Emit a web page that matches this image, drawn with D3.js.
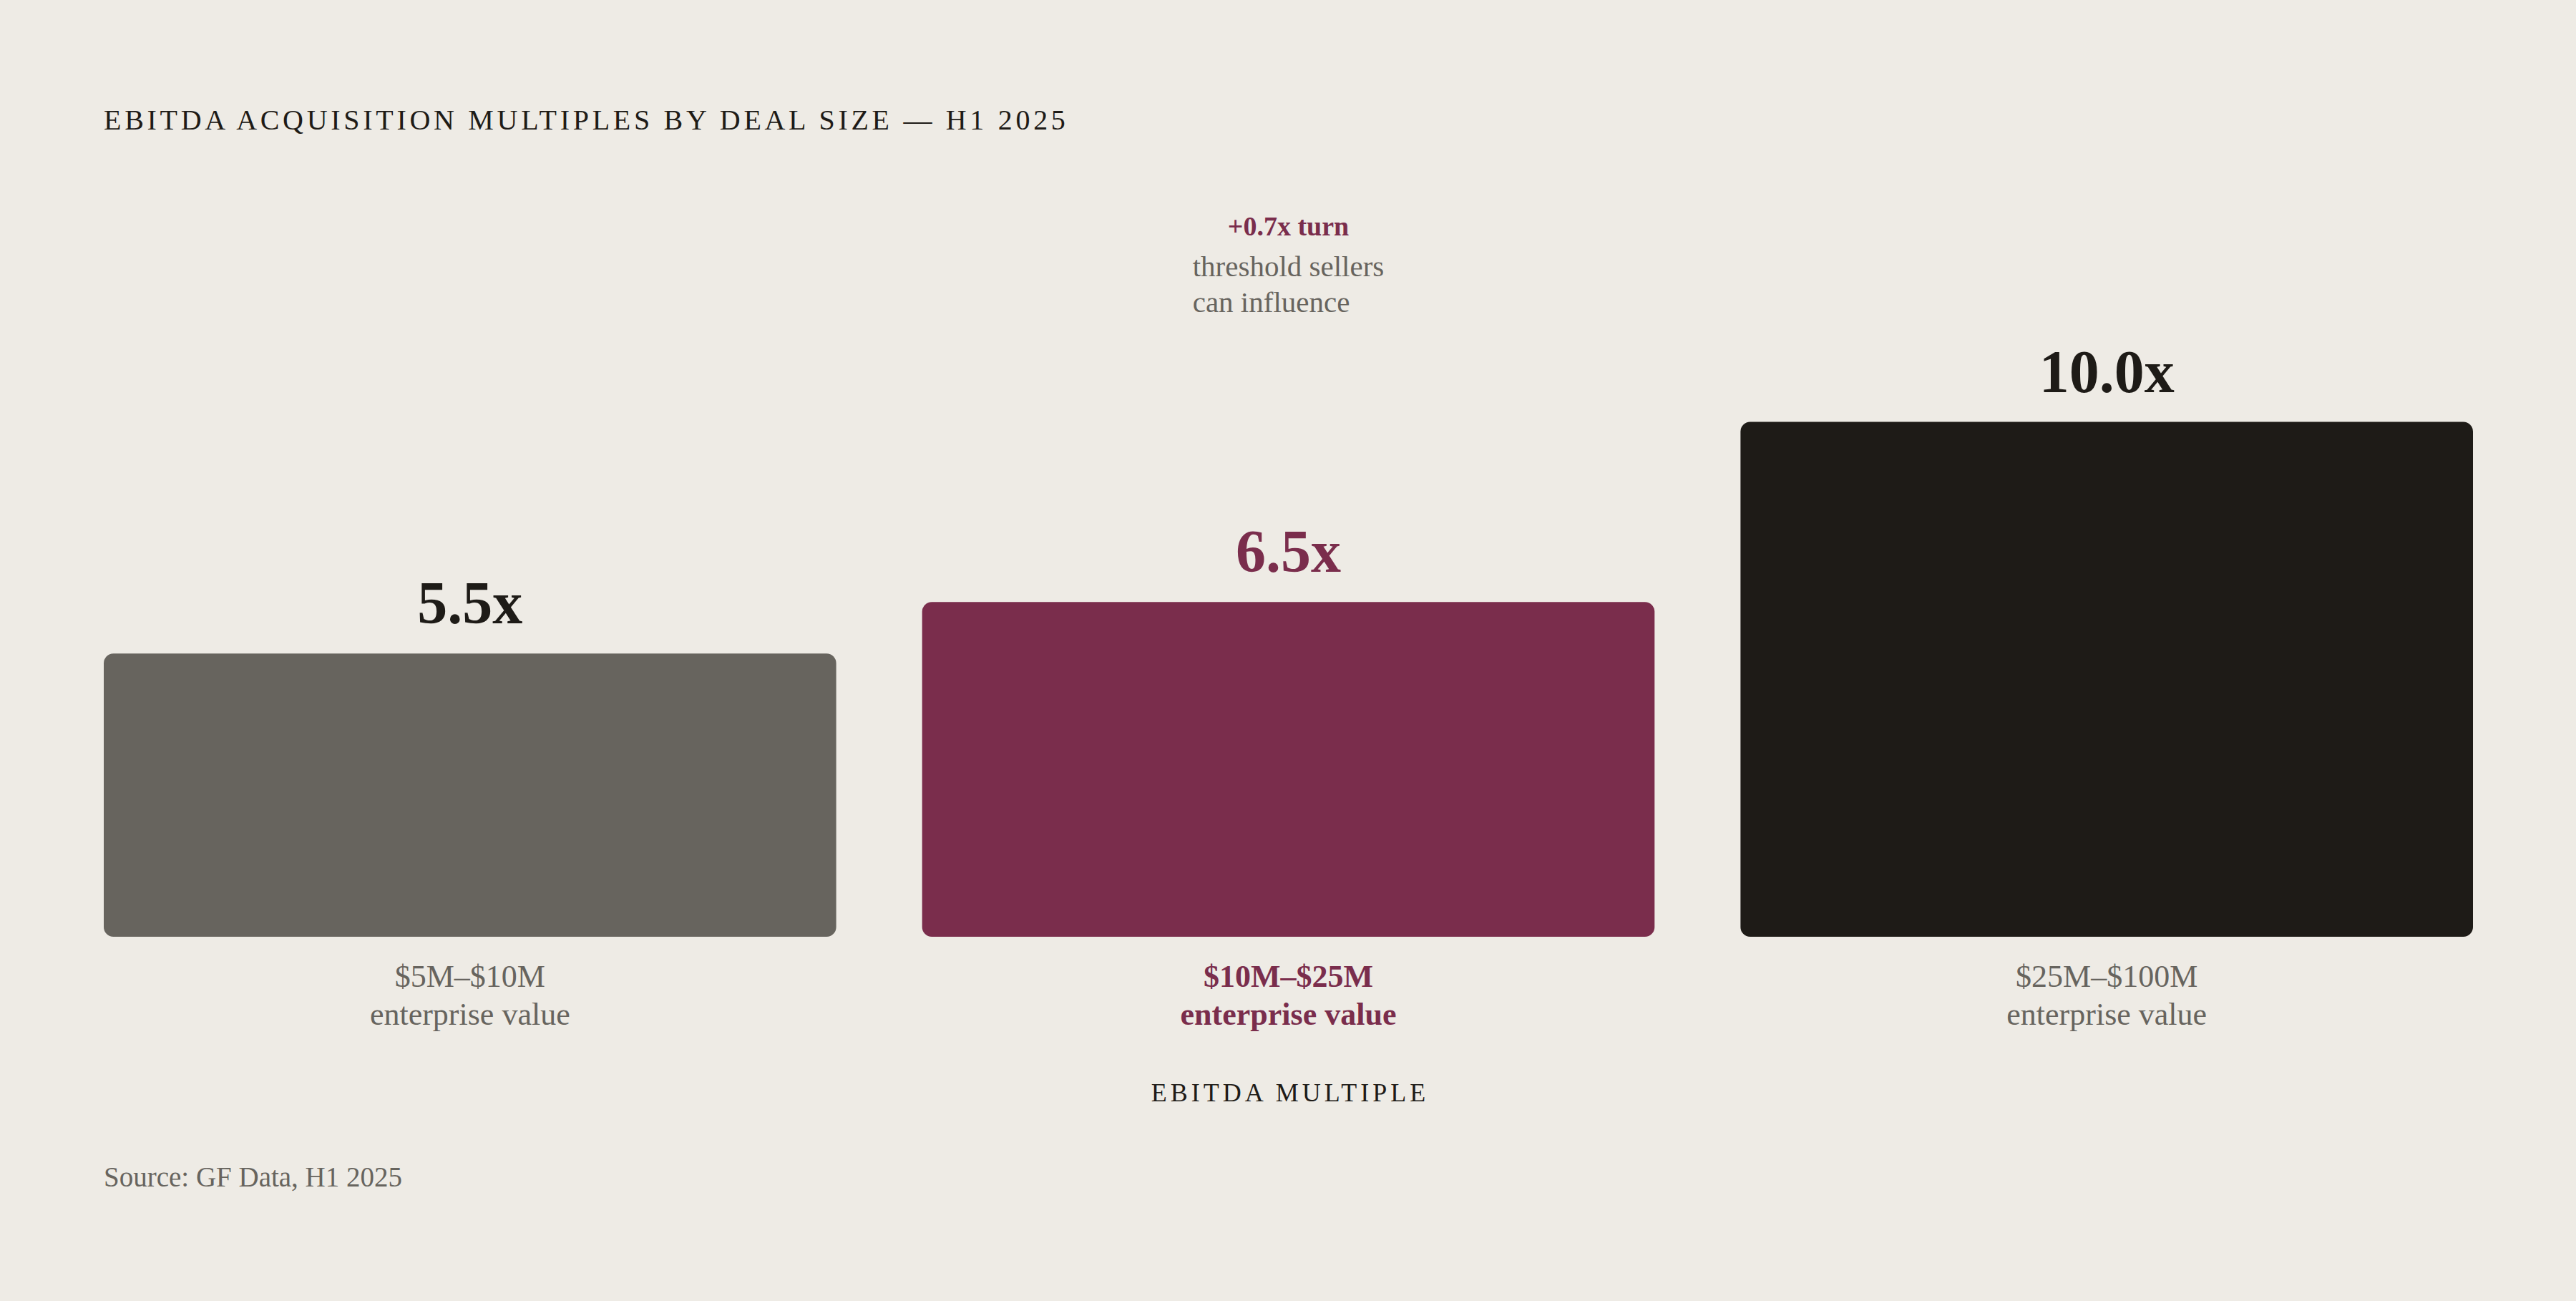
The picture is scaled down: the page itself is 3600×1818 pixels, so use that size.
<!DOCTYPE html>
<html>
<head>
<meta charset="utf-8">
<script src="https://cdn.jsdelivr.net/npm/d3@7"></script>
<style>
  html, body { margin: 0; padding: 0; background: #eeebe5; }
  svg { display: block; font-family: "Liberation Serif", "DejaVu Serif", serif; }
</style>
</head>
<body>
<svg width="3600" height="1818"></svg>
<script>
// deal size buckets and their median EBITDA multiples (H1 2025)
const categories = ["$5M–$10M", "$10M–$25M", "$25M–$100M"];
const multiples = [5.5, 6.5, 10.0];
const subLabels = ["enterprise value", "enterprise value", "enterprise value"];
const highlighted = "$10M–$25M";

const noteHead = "+0.7x turn";
const noteLines = ["threshold sellers", "can influence"];

const title = "EBITDA ACQUISITION MULTIPLES BY DEAL SIZE — H1 2025";
const axisTitle = "EBITDA MULTIPLE";
const source = "Source: GF Data, H1 2025";

const ink = "#1e1b17",
  grey = "#67645e",
  plum = "#7a2d4c";

var svg = d3.select("svg");

var x = d3.scaleBand().domain(categories).range([145, 3456]).paddingInner(0.105);
var y = d3.scaleLinear().domain([0, 10]).range([1309, 589.5]);

var barColor = d3.scaleOrdinal().domain(categories).range([grey, plum, ink]);
var labelColor = d3.scaleOrdinal().domain(categories).range([ink, plum, ink]);

var data = categories.map((c, i) => ({ cat: c, value: multiples[i], sub: subLabels[i] }));

svg
  .append("text")
  .attr("x", 145)
  .attr("y", 181)
  .attr("fill", ink)
  .attr("font-size", 40)
  .attr("letter-spacing", 4.7)
  .text(title);

var bars = svg.append("g").attr("class", "bars");

bars
  .selectAll("rect")
  .data(data)
  .enter()
  .append("rect")
  .attr("x", (d) => x(d.cat))
  .attr("y", (d) => y(d.value))
  .attr("width", x.bandwidth())
  .attr("height", (d) => y(0) - y(d.value))
  .attr("rx", 13.5)
  .attr("fill", (d) => barColor(d.cat));

// value on top of each bar
bars
  .selectAll("text.value")
  .data(data)
  .enter()
  .append("text")
  .attr("class", "value")
  .attr("x", (d) => x(d.cat) + x.bandwidth() / 2)
  .attr("y", (d) => y(d.value) - 42)
  .attr("text-anchor", "middle")
  .attr("font-size", 84)
  .attr("font-weight", "bold")
  .attr("fill", (d) => labelColor(d.cat))
  .text((d) => d.value.toFixed(1) + "x");

// category labels under the bars
var cats = svg
  .append("g")
  .selectAll("text")
  .data(data)
  .enter()
  .append("text")
  .attr("text-anchor", "middle")
  .attr("font-size", 44)
  .attr("font-weight", (d) => (d.cat === highlighted ? "bold" : "normal"))
  .attr("fill", (d) => (d.cat === highlighted ? plum : grey));

cats
  .append("tspan")
  .attr("x", (d) => x(d.cat) + x.bandwidth() / 2)
  .attr("y", 1379)
  .text((d) => d.cat);

cats
  .append("tspan")
  .attr("x", (d) => x(d.cat) + x.bandwidth() / 2)
  .attr("y", 1432)
  .text((d) => d.sub);

// annotation above the highlighted bar
var cx = x(highlighted) + x.bandwidth() / 2;
var note = svg.append("g").attr("class", "note");

note
  .append("text")
  .attr("x", cx)
  .attr("y", 329)
  .attr("text-anchor", "middle")
  .attr("font-size", 38)
  .attr("font-weight", "bold")
  .attr("fill", plum)
  .text(noteHead);

var lines = note
  .selectAll("text.line")
  .data(noteLines)
  .enter()
  .append("text")
  .attr("class", "line")
  .attr("y", (d, i) => 386 + i * 50)
  .attr("font-size", 41)
  .attr("fill", grey)
  .text((d) => d);

var widest = d3.max(lines.nodes(), (n) => n.getComputedTextLength());
lines.attr("x", cx - widest / 2);

svg
  .append("text")
  .attr("x", cx + 2.5)
  .attr("y", 1539)
  .attr("text-anchor", "middle")
  .attr("font-size", 36)
  .attr("letter-spacing", 5)
  .attr("fill", ink)
  .text(axisTitle);

svg
  .append("text")
  .attr("x", 145)
  .attr("y", 1658)
  .attr("font-size", 39)
  .attr("fill", grey)
  .text(source);
</script>
</body>
</html>
